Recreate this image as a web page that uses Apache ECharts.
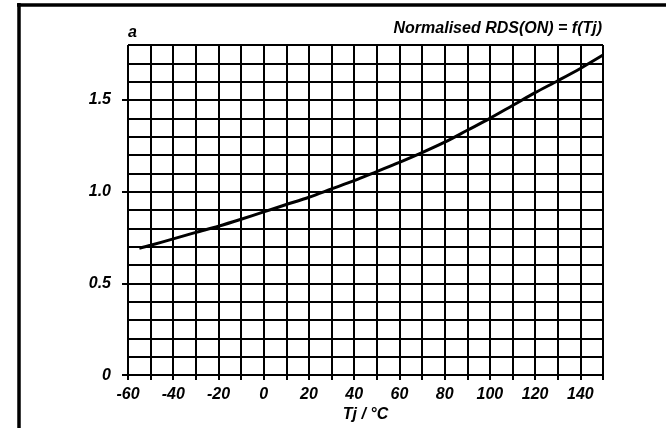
<!DOCTYPE html>
<html>
<head>
<meta charset="utf-8">
<script src="https://cdn.jsdelivr.net/npm/echarts@6/dist/echarts.min.js"></script>
<style>
html,body{margin:0;padding:0;background:#fff;}
#chart{width:666px;height:428px;}
</style>
</head>
<body>
<div id="chart"></div>
<script>
// Junction temperature (°C) and normalised RDS(ON)
var tempC = [-55, -50, -40, -30, -20, -10, 0, 10, 20, 30, 40, 50, 60, 70, 80, 90, 100, 110, 120, 130, 140, 150];
var rdsNorm = [0.692, 0.708, 0.743, 0.778, 0.812, 0.85, 0.89, 0.93, 0.97, 1.015, 1.06, 1.11, 1.16, 1.213, 1.27, 1.335, 1.40, 1.47, 1.54, 1.605, 1.672, 1.745];
var xTickLabels = [-60, -40, -20, 0, 20, 40, 60, 80, 100, 120, 140];
var yTickLabels = [0, 0.5, 1.0, 1.5];
var titleText = 'Normalised RDS(ON) = f(Tj)';
var panelLabel = 'a';
var xAxisName = 'Tj / °C';

var FONT = 'Liberation Sans, Arial, sans-serif';
var pts = tempC.map(function (t, i) { return [t, rdsNorm[i]]; });
var txt = {color: '#000', fontFamily: FONT, fontStyle: 'italic', fontWeight: 'bold', fontSize: 16};

var chart = echarts.init(document.getElementById('chart'), null, {renderer: 'canvas'});
chart.setOption({
  backgroundColor: '#fff',
  animation: false,
  grid: {left: 128, right: 63, top: 45, bottom: 52},
  xAxis: {
    type: 'value', min: -60, max: 150, interval: 10,
    name: xAxisName, nameLocation: 'middle', nameGap: 23,
    nameTextStyle: txt,
    axisLine: {show: true, lineStyle: {color: '#000', width: 2}},
    axisTick: {show: true, length: 5, lineStyle: {color: '#000', width: 2}},
    axisLabel: Object.assign({
      customValues: xTickLabels, margin: 11,
      formatter: function (v) { return String(v); }
    }, txt),
    splitLine: {show: true, lineStyle: {color: '#000', width: 2}}
  },
  yAxis: [{
    type: 'value', min: 0, max: 1.8, interval: 0.1, position: 'left',
    axisLine: {show: true, lineStyle: {color: '#000', width: 2}},
    axisTick: {show: false},
    axisLabel: {show: false},
    splitLine: {show: true, lineStyle: {color: '#000', width: 2}}
  }, {
    type: 'value', min: 0, max: 1.8, interval: 0.1, position: 'left', offset: 0,
    axisLine: {show: false},
    axisTick: {show: true, length: 6, customValues: yTickLabels, lineStyle: {color: '#000', width: 2}},
    axisLabel: Object.assign({
      customValues: yTickLabels, margin: 17,
      formatter: function (v) { return v === 0 ? '0' : v.toFixed(1); }
    }, txt),
    splitLine: {show: false}
  }],
  graphic: [
    {type: 'line', shape: {x1: 17, y1: 5, x2: 666, y2: 5}, style: {stroke: '#000', lineWidth: 3.5}},
    {type: 'line', shape: {x1: 19, y1: 3, x2: 19, y2: 428}, style: {stroke: '#000', lineWidth: 3.5}},
    {type: 'text', left: 128, top: 25, style: {text: panelLabel, fill: '#000', font: 'italic bold 16px ' + FONT}},
    {type: 'text', right: 64, top: 21, style: {text: titleText, fill: '#000', font: 'italic bold 16px ' + FONT}}
  ],
  series: [{
    type: 'line', data: pts, smooth: 0.3, showSymbol: false, yAxisIndex: 0,
    lineStyle: {color: '#000', width: 3}
  }]
});
</script>
</body>
</html>
